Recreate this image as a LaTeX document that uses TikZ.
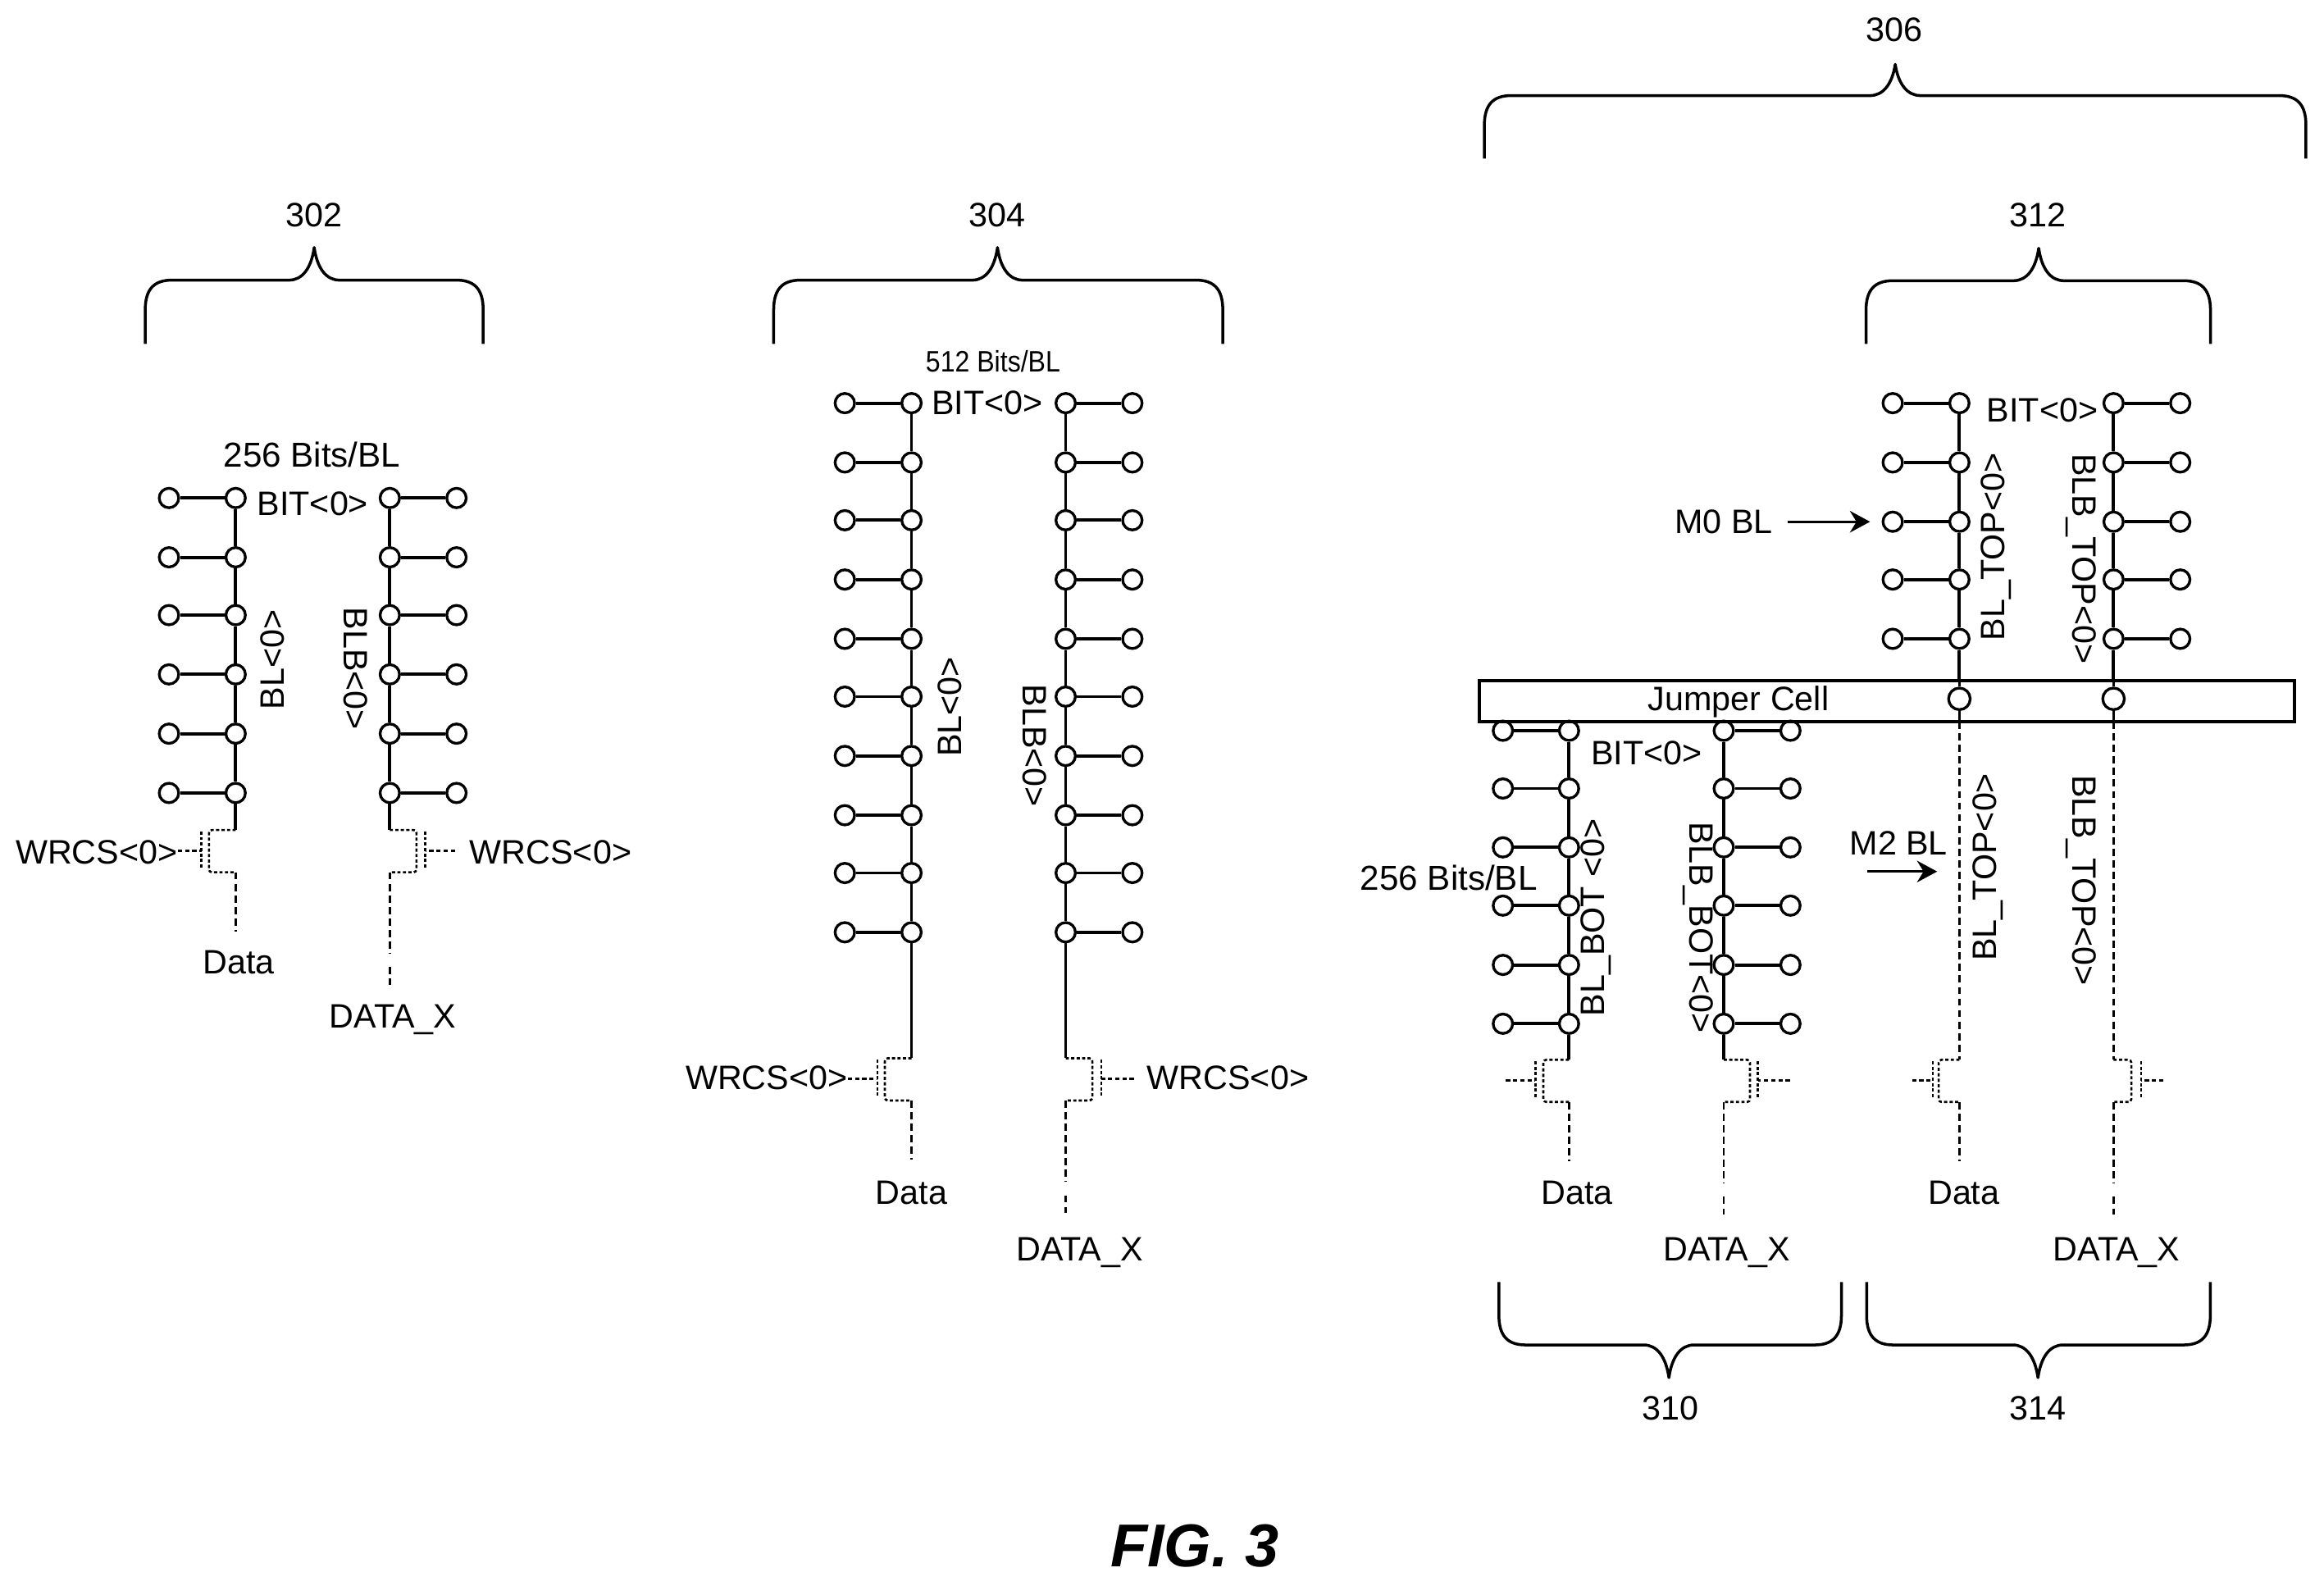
\documentclass[tikz,border=0pt]{standalone}
\usepackage{fontspec}
\usepackage{graphicx}
\setmainfont{Liberation Sans}
\usetikzlibrary{calc,arrows.meta}
\tikzset{
  cell/.style={circle,draw=black,fill=white,inner sep=0pt,minimum size=13.5pt,line width=1.9pt},
  bigcell/.style={cell,minimum size=15pt},
  wire/.style={draw=black,line width=2.2pt},
  fetline/.style={draw=black,line width=1.5pt,dash pattern=on 2.2pt off 1.6pt},
  lowline/.style={draw=black,line width=1.6pt,dash pattern=on 5pt off 3pt},
  leadline/.style={draw=black,line width=1.5pt,dash pattern=on 3pt off 2pt},
  bracket/.style={draw=black,line width=2pt},
  lab/.style={inner sep=0pt,font=\fontsize{23.5}{28}\selectfont},
  bits/.style={inner sep=0pt,font=\fontsize{24}{28}\selectfont},
  pointer/.style={draw=black,line width=1.6pt,-{Stealth[length=14pt,width=15pt]}}
}
% prefix, side x, main x, row list
\newcommand{\bitcol}[4]{%
  \foreach \yy [count=\ii] in {#4} {
    \node[cell] (#1s\ii) at (#2,\yy) {};
    \node[cell] (#1m\ii) at (#3,\yy) {};
    \draw[wire] (#1s\ii) -- (#1m\ii);
  }
  \foreach \yy [count=\ii, remember=\ii as \pp (initially 0)] in {#4} {
    \ifnum\ii>1 \draw[wire] (#1m\pp) -- (#1m\ii); \fi
  }
}
% name, x main, y top, x channel, x gate, x lead end
\newcommand{\fet}[6]{%
  \pgfmathsetmacro\fetb{#3+28.5}
  \pgfmathsetmacro\fetg{#3+14}
  \coordinate (#1d) at (#2,#3);
  \coordinate (#1o) at (#2,\fetb);
  \coordinate (#1g) at (#5,\fetg);
  \coordinate (#1l) at (#6,\fetg);
  \draw[fetline,rounded corners=2pt] (#1d) -- (#4,#3) -- (#4,\fetb) -- (#1o);
  \draw[fetline] (#5,#3+1) -- (#5,\fetb-3);
  \draw[leadline] (#1l) -- (#1g);
}
\newcommand{\dataout}[1]{%
  \draw[lowline] (#1o) -- ++(0,40) coordinate (#1e);
}
\newcommand{\dataxout}[1]{%
  \draw[lowline] (#1o) -- ++(0,55) coordinate (#1p);
  \draw[lowline] (#1o) ++(0,64) coordinate (#1q) -- ++(0,12) coordinate (#1e);
}
% left, right, tip x, y of bar, y of ends, y of tip, sign
\newcommand{\curlyb}[7]{%
  \draw[bracket,line join=round] (#1,#5)
    -- (#1,#4+#7*20)
    .. controls (#1,#4+#7*6) and (#1+6,#4) .. (#1+18,#4)
    -- (#3-17,#4)
    .. controls (#3-8,#4) and (#3-2,#4-#7*8) .. (#3,#6)
    .. controls (#3+2,#4-#7*8) and (#3+8,#4) .. (#3+17,#4)
    -- (#2-18,#4)
    .. controls (#2-6,#4) and (#2,#4+#7*6) .. (#2,#4+#7*20)
    -- (#2,#5);
}
\begin{document}
\begin{tikzpicture}[x=0.03615cm,y=-0.03615cm]
\useasboundingbox (0,0) rectangle (1568,1069.5);

% ---------- 302
\curlyb{98}{326}{212}{189}{232}{167}{1}
\node[lab] (n302) at (212,145) {302};
\node[bits] (bits302) at (210.5,307) {256 Bits/BL};
\node[lab] (bit302) at (211,340) {BIT<0>};
\bitcol{a}{114}{159}{336,376,415,455,495,535}
\bitcol{b}{308}{263}{336,376,415,455,495,535}
\fet{af}{159}{560}{141}{136}{120}
\fet{bf}{263}{560}{281}{287}{307}
\draw[wire] (am6) -- (afd);
\draw[wire] (bm6) -- (bfd);
\dataout{af}
\dataxout{bf}
\node[lab,rotate=90] (bl302) at (184,445) {BL<0>};
\node[lab,rotate=-90] (blb302) at (240,451) {BLB<0>};
\node[lab,anchor=east] (wl302) at (120,575) {WRCS<0>};
\node[lab] (wr302) at (371.5,575) {WRCS<0>};
\node[lab] (d302) at (161,649) {Data};
\node[lab] (dx302) at (265,688) {DATA\_X};

% ---------- 304
\curlyb{522}{825}{673}{189}{232}{167}{1}
\node[lab] (n304) at (673,145) {304};
\node[inner sep=0pt,font=\fontsize{20.5}{24}\selectfont] (bits304) at (670,244) {\scalebox{0.89}[1]{512 Bits/BL}};
\node[lab] (bit304) at (666,272) {BIT<0>};
\bitcol{c}{570}{615}{272,312,351,391,431,470,510,550,589,629}
\bitcol{e}{764}{719}{272,312,351,391,431,470,510,550,589,629}
\fet{cf}{615}{714}{597}{592}{572}
\fet{ef}{719}{714}{737}{743}{765}
\draw[wire] (cm10) -- (cfd);
\draw[wire] (em10) -- (efd);
\dataout{cf}
\dataxout{ef}
\node[lab,rotate=90] (bl304) at (641,477) {BL<0>};
\node[lab,rotate=-90] (blb304) at (698,503) {BLB<0>};
\node[lab,anchor=east] (wl304) at (572,727) {WRCS<0>};
\node[lab] (wr304) at (828.5,727) {WRCS<0>};
\node[lab] (d304) at (615,805) {Data};
\node[lab] (dx304) at (728.5,845) {DATA\_X};

% ---------- 306
\curlyb{1001.5}{1555.8}{1278.7}{64.5}{107}{43.4}{1}
\node[lab] (n306) at (1278,20) {306};
\curlyb{1259}{1491.4}{1375.5}{189.4}{232}{167.5}{1}
\node[lab] (n312) at (1375,145) {312};
\node[lab] (bit312) at (1378,277) {BIT<0>};
\bitcol{f}{1277}{1322}{272,312,352,391,431}
\bitcol{g}{1471}{1426}{272,312,352,391,431}
\node[lab] (m0) at (1163,352) {M0 BL};
\coordinate (m0s) at (1206,352);
\draw[pointer,shorten >=8pt] (m0s) -- (fs3);
\node[lab,rotate=90] (bl312) at (1347,369) {BL\_TOP<0>};
\node[lab,rotate=-90] (blb312) at (1404,377) {BLB\_TOP<0>};

% jumper
\node[bigcell] (j1) at (1322,471.5) {};
\node[bigcell] (j2) at (1426,471.5) {};
% lower left
\bitcol{h}{1014}{1058.6}{493,532,571.7,611,651,690.7}
\bitcol{k}{1208}{1163}{493,532,571.7,611,651,690.7}
\draw[draw=black,line width=2.4pt] (998,459.3) rectangle (1548,487);
\coordinate (j1t) at (1322,459.3);
\coordinate (j2t) at (1426,459.3);
\coordinate (j1b) at (1322,487);
\coordinate (j2b) at (1426,487);
\draw[wire] (fm5) -- (j1t);
\draw[wire] (gm5) -- (j2t);
\draw[wire,line width=1.7pt] (j1t) -- (j1);
\draw[wire,line width=1.7pt] (j2t) -- (j2);
\draw[wire,line width=1.7pt] (j1) -- (j1b);
\draw[wire,line width=1.7pt] (j2) -- (j2b);
\node[lab] (jump) at (1173,473.5) {Jumper Cell};
\node[lab] (bit306) at (1111,508) {BIT<0>};
\node[bits] (bits306) at (977.5,592.5) {256 Bits/BL};
\fet{hf}{1058.6}{715}{1041.3}{1036}{1016}
\fet{kf}{1163}{715}{1180.7}{1186}{1207.6}
\draw[wire] (hm6) -- (hfd);
\draw[wire] (km6) -- (kfd);
\dataout{hf}
\dataxout{kf}
\node[lab,rotate=90] (blbot) at (1077,619) {BL\_BOT <0>};
\node[lab,rotate=-90] (blbbot) at (1146,626) {BLB\_BOT<0>};
\node[lab] (d310) at (1064,805) {Data};
\node[lab] (dx310) at (1165,845) {DATA\_X};
% right M2
\fet{mf}{1322}{715}{1308}{1304}{1290}
\fet{nf}{1426}{715}{1438}{1444.7}{1459.6}
\draw[lowline] (j1b) -- (mfd);
\draw[lowline] (j2b) -- (nfd);
\dataout{mf}
\dataxout{nf}
\node[lab] (m2) at (1281,569) {M2 BL};
\coordinate (m2s) at (1260,588);
\coordinate (m2e) at (1307,588);
\draw[pointer] (m2s) -- (m2e);
\node[lab,rotate=90] (bltop) at (1341,585) {BL\_TOP<0>};
\node[lab,rotate=-90] (blbtop) at (1404,594) {BLB\_TOP<0>};
\node[lab] (d314) at (1325,805) {Data};
\node[lab] (dx314) at (1428,845) {DATA\_X};

\curlyb{1011.3}{1242.4}{1126}{907.4}{865}{929.5}{-1}
\node[lab] (n310) at (1127,950) {310};
\curlyb{1259.4}{1491.3}{1375}{907.4}{865}{929.5}{-1}
\node[lab] (n314) at (1375,950) {314};

\node[inner sep=0pt,font=\fontsize{42}{48}\selectfont\bfseries\itshape] (fig) at (806,1043) {FIG. 3};
\end{tikzpicture}
\end{document}
